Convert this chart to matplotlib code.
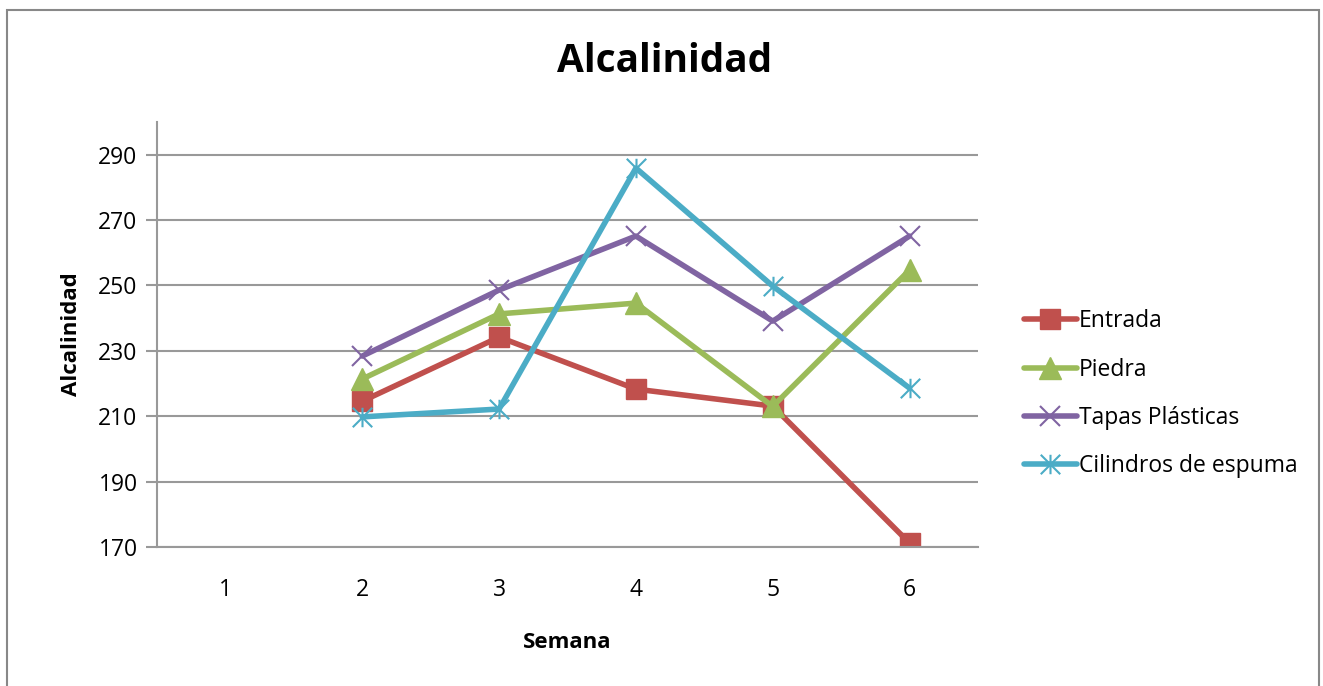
import matplotlib
matplotlib.use("Agg")
import matplotlib.pyplot as plt
from matplotlib.path import Path
from matplotlib.patches import Rectangle

semanas = [1, 2, 3, 4, 5, 6]
entrada = [None, 214.6, 234.2, 218.3, 213.1, 171.2]
piedra = [None, 221.4, 241.3, 244.6, 213.0, 254.7]
tapas = [None, 228.4, 248.6, 265.1, 239.1, 265.1]
cilindros = [None, 209.8, 212.2, 285.9, 249.8, 218.6]
series_names = ["Entrada", "Piedra", "Tapas Plásticas", "Cilindros de espuma"]
yticks = [170, 190, 210, 230, 250, 270, 290]

plt.rcParams['font.family'] = ['Open Sans', 'DejaVu Sans']

fig = plt.figure(figsize=(13.23, 6.86), dpi=100)
ax = fig.add_axes([0.1187, 0.2026, 0.6205, 0.6196])

star = Path([(0, -1), (0, 1), (-1, -1), (1, 1), (-1, 1), (1, -1)],
            [Path.MOVETO, Path.LINETO, Path.MOVETO, Path.LINETO, Path.MOVETO, Path.LINETO])

def clean(vals):
    return [float('nan') if v is None else v for v in vals]

styles = [
    (entrada, "#C0504D", "s", 14, {}),
    (piedra, "#9BBB59", "^", 16, {}),
    (tapas, "#8064A2", "x", 14, {"markeredgewidth": 1.5}),
    (cilindros, "#4BACC6", star, 14, {"markeredgewidth": 1.5, "markerfacecolor": "none"}),
]
for (vals, col, mk, ms, extra), name in zip(styles, series_names):
    ax.plot(semanas, clean(vals), color=col, lw=4.0, marker=mk, markersize=ms,
            markeredgecolor=col, label=name, solid_capstyle='round', **extra)

ax.set_xlim(0.5, 6.5)
ax.set_ylim(170, 300)
ax.set_yticks(yticks)
ax.set_xticks(semanas)
ax.grid(axis='y', color='#999999', lw=1.5)
ax.set_axisbelow(True)
for s in ['top', 'right']:
    ax.spines[s].set_visible(False)
for s in ['left', 'bottom']:
    ax.spines[s].set_color('#999999')
    ax.spines[s].set_linewidth(1.5)
ax.tick_params(axis='y', length=8, width=1.5, color='#999999', labelsize=16.5, pad=6)
ax.tick_params(axis='x', length=0, labelsize=16.5, pad=22)

fig.text(665 / 1323, 1 - 62 / 686, "Alcalinidad", fontsize=28, fontweight='bold',
         ha='center', va='center')
ax.set_xlabel("Semana", fontsize=16, fontweight='bold', labelpad=22)
ax.set_ylabel("Alcalinidad", fontsize=16, fontweight='bold', labelpad=12)

leg = ax.legend(loc='center left', bbox_to_anchor=(1.045, 0.361), frameon=False,
                fontsize=16.5, handlelength=2.3, handletextpad=0.1, labelspacing=1.05,
                borderaxespad=0)

fig.patches.append(Rectangle((7 / 1323, -0.01), 1312 / 1323, 1 - 10 / 686 + 0.01,
                             transform=fig.transFigure, fill=False,
                             edgecolor='#888888', lw=1.5))

fig.savefig("out.png", dpi=100)
